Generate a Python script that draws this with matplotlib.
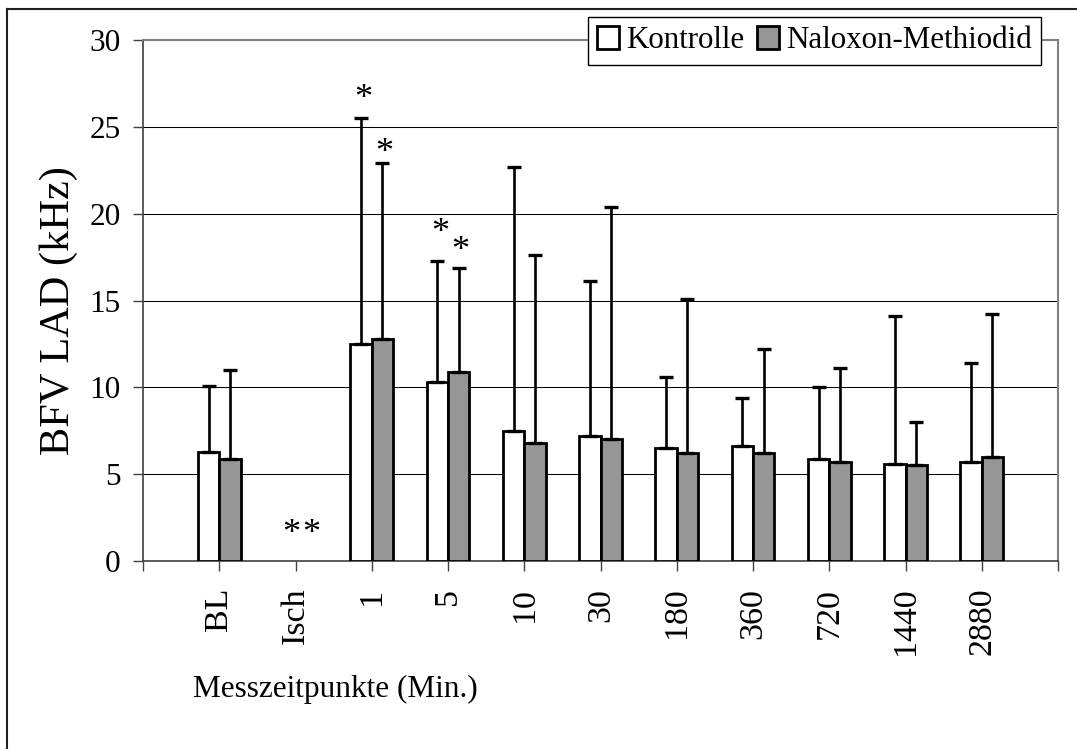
import matplotlib
matplotlib.use("Agg")
import matplotlib.pyplot as plt
from matplotlib.lines import Line2D
import numpy as np

plt.rcParams['font.family'] = ['Liberation Serif', 'DejaVu Serif']

# ---- data ----
categories = ["BL", "Isch", "1", "5", "10", "30", "180", "360", "720", "1440", "2880"]
kontrolle = [6.3, 0.0, 12.5, 10.3, 7.5, 7.2, 6.5, 6.6, 5.9, 5.6, 5.7]
kontrolle_err = [3.8, 0.0, 13.0, 7.0, 15.2, 8.9, 4.1, 2.8, 4.1, 8.5, 5.7]
naloxon = [5.9, 0.0, 12.8, 10.9, 6.8, 7.05, 6.2, 6.2, 5.7, 5.5, 6.0]
naloxon_err = [5.1, 0.0, 10.1, 6.0, 10.8, 13.35, 8.9, 6.0, 5.4, 2.5, 8.2]
has_data = [True, False, True, True, True, True, True, True, True, True, True]
series_names = ["Kontrolle", "Naloxon-Methiodid"]
# significance stars: (category index, x offset in bar units, y value)
stars = [(1, -0.06, 1.55), (1, 0.21, 1.55),
         (2, -0.11, 26.55), (2, 0.17, 23.45),
         (3, -0.10, 18.85), (3, 0.16, 17.85)]
yticks = [0, 5, 10, 15, 20, 25, 30]

W, H = 1077, 749
fig = plt.figure(figsize=(W / 100, H / 100), dpi=100)
ax = fig.add_axes([143 / W, 1 - 561 / H, (1058 - 143) / W, (561 - 40) / H])

x = np.arange(1, len(categories) + 1)
bw = 0.28
mask = np.array(has_data)
xs = x[mask]
k = np.array(kontrolle)[mask]
ke = np.array(kontrolle_err)[mask]
n = np.array(naloxon)[mask]
ne = np.array(naloxon_err)[mask]

b1 = ax.bar(xs - bw / 2, k, bw, color='white', edgecolor='black', linewidth=2.0,
            label=series_names[0], zorder=3)
b2 = ax.bar(xs + bw / 2, n, bw, color='#969696', edgecolor='black', linewidth=2.0,
            label=series_names[1], zorder=3)
ax.errorbar(xs - bw / 2, k, yerr=[np.zeros_like(ke), ke], fmt='none', ecolor='black',
            elinewidth=1.9, capsize=4.7, capthick=2.4, zorder=4)
ax.errorbar(xs + bw / 2, n, yerr=[np.zeros_like(ne), ne], fmt='none', ecolor='black',
            elinewidth=1.9, capsize=4.7, capthick=2.4, zorder=4)

for ci, dx, yv in stars:
    ax.text(x[ci] + dx, yv, "*", ha='center', va='center', fontsize=26, zorder=5)

ax.set_xlim(0, 12)
ax.set_ylim(0, 30)
ax.set_yticks(yticks)
ax.set_yticklabels([str(v) for v in yticks], fontsize=22.5)
ax.set_xticks(np.arange(0, 13))
ax.set_xticklabels([""] + categories + [""], rotation=90, fontsize=24.5, va='top')
ax.tick_params(axis='y', direction='out', length=7.2, width=1, color='#404040', pad=9)
ax.tick_params(axis='x', direction='out', length=7.2, width=1, color='#404040', pad=12)

ax.yaxis.grid(True, color='black', linewidth=0.75, zorder=0)
ax.set_axisbelow(True)
for s in ['top', 'right']:
    ax.spines[s].set_color('#808080')
    ax.spines[s].set_linewidth(1.5)
ax.spines['left'].set_color('#404040')
ax.spines['left'].set_linewidth(1.2)
ax.spines['bottom'].set_color('#404040')
ax.spines['bottom'].set_linewidth(1.2)

fig.text(59 / W, 1 - 311 / H, "BFV LAD (kHz)", rotation=90, ha='center', va='center',
         fontsize=30.5)
fig.text(193 / W, 1 - 697 / H, "Messzeitpunkte (Min.)", ha='left', va='baseline',
         fontsize=22.5)

leg = fig.legend(handles=[b1, b2], labels=series_names, loc='upper right',
                 bbox_to_anchor=(1041 / W, 1 - 17 / H), bbox_transform=fig.transFigure,
                 ncol=2, fontsize=22.3, frameon=True, fancybox=False, shadow=False,
                 borderaxespad=0, handlelength=0.69, handleheight=0.72,
                 handletextpad=0.23, columnspacing=0.43, borderpad=0.3)
leg.get_frame().set_edgecolor('black')
leg.get_frame().set_linewidth(1.0)
leg.get_frame().set_alpha(1)
leg.set_zorder(10)

# outer chart border (left and top visible)
fig.add_artist(Line2D([7 / W, 7 / W], [0, 1 - 9 / H], transform=fig.transFigure,
                      color='#202020', linewidth=1.5))
fig.add_artist(Line2D([7 / W, 1], [1 - 9 / H, 1 - 9 / H], transform=fig.transFigure,
                      color='#202020', linewidth=1.5))

fig.savefig("out.png", dpi=100)
